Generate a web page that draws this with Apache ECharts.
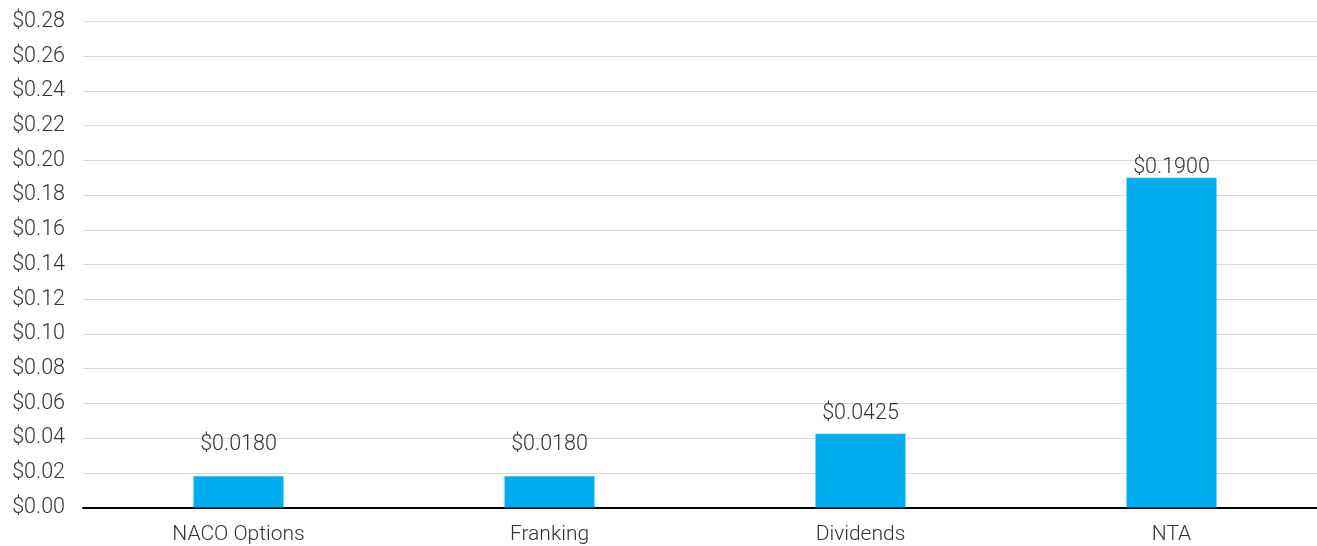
<!DOCTYPE html>
<html>
<head>
<meta charset="utf-8">
<script src="https://cdn.jsdelivr.net/npm/echarts@6/dist/echarts.min.js"></script>
<style>
html,body{margin:0;padding:0;background:#fff;}
#chart{width:1317px;height:546px;}
</style>
</head>
<body>
<div id="chart"></div>
<script>
const categories = ['NACO Options', 'Franking', 'Dividends', 'NTA'];
const values = [0.018, 0.018, 0.0425, 0.19];
const yMin = 0, yMax = 0.28, yStep = 0.02;

const labelDistances = [21, 21, 9, -1];
const fontFamily = 'Roboto, "Liberation Sans", sans-serif';
const textColor = '#333333';

const chart = echarts.init(document.getElementById('chart'));
chart.setOption({
  animation: false,
  grid: { left: 83, top: 21.5, width: 1244, height: 486, containLabel: false, outerBoundsMode: 'none' },
  xAxis: {
    type: 'category',
    data: categories,
    axisLine: { show: true, lineStyle: { color: '#000', width: 2 } },
    axisTick: { show: false },
    axisLabel: { color: textColor, fontSize: 21, fontFamily: fontFamily, fontWeight: 300, margin: 17 }
  },
  yAxis: {
    type: 'value',
    min: yMin, max: yMax, interval: yStep,
    axisLine: { show: false },
    axisTick: { show: false },
    splitLine: { lineStyle: { color: '#d9d9d9', width: 1 } },
    axisLabel: {
      color: textColor, fontSize: 21.5, fontFamily: fontFamily, fontWeight: 300, margin: 18,
      formatter: v => '$' + v.toFixed(2)
    }
  },
  series: [{
    type: 'bar',
    barWidth: 90,
    itemStyle: { color: '#00AEEF' },
    data: values.map((v, i) => ({
      value: v,
      label: {
        show: true, position: 'top', distance: labelDistances[i],
        color: textColor, fontSize: 21.5, fontFamily: fontFamily, fontWeight: 300,
        formatter: p => '$' + p.value.toFixed(4)
      }
    }))
  }]
});
</script>
</body>
</html>
